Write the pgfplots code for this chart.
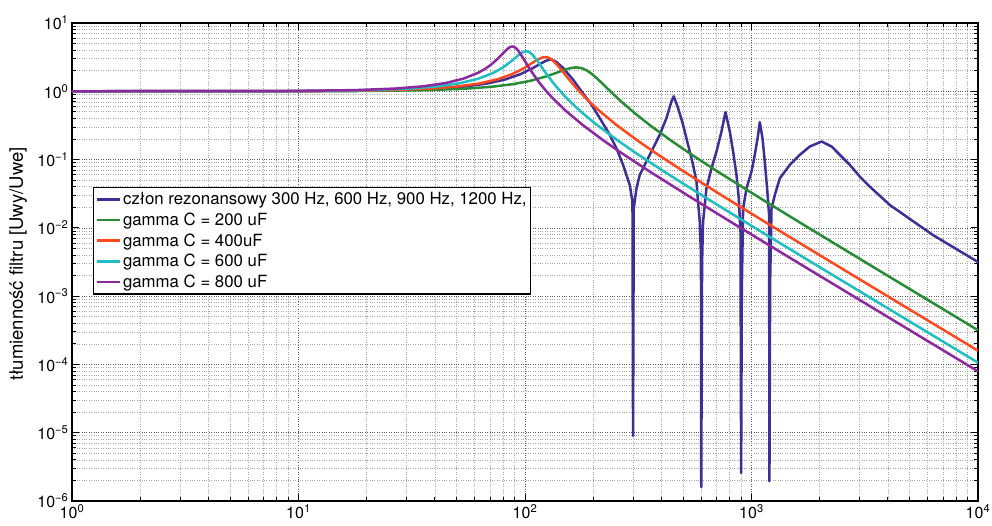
\documentclass[border=0pt]{standalone}
\usepackage{fontspec}
\setmainfont{TeX Gyre Heros}
\usepackage{pgfplots}
\pgfplotsset{compat=1.18}
\definecolor{cblue}{RGB}{60,48,150}
\definecolor{cgreen}{RGB}{40,140,55}
\definecolor{cred}{RGB}{255,72,30}
\definecolor{ccyan}{RGB}{30,190,195}
\definecolor{cpurple}{RGB}{140,40,160}
\newcommand{\tl}[1]{{\fontsize{16}{18}\selectfont 10\textsuperscript{#1}}}
\begin{document}
\begin{tikzpicture}
\begin{loglogaxis}[
  name=ax,
  scale only axis, width=906pt, height=478pt,
  xmin=1, xmax=10000, ymin=1e-6, ymax=10,
  xtick={1,10,100,1000,10000},
  xticklabels={\tl{0},\tl{1},\tl{2},\tl{3},\tl{4}},
  ytick={1e-6,1e-5,1e-4,1e-3,1e-2,1e-1,1,10},
  yticklabels={\tl{\textminus6},\tl{\textminus5},\tl{\textminus4},\tl{\textminus3},\tl{\textminus2},\tl{\textminus1},\tl{0},\tl{1}},
  minor xtick={2,3,4,5,6,7,8,9,20,30,40,50,60,70,80,90,200,300,400,500,600,700,800,900,2000,3000,4000,5000,6000,7000,8000,9000},
  minor ytick={2e-6,3e-6,4e-6,5e-6,6e-6,7e-6,8e-6,9e-6,2e-5,3e-5,4e-5,5e-5,6e-5,7e-5,8e-5,9e-5,2e-4,3e-4,4e-4,5e-4,6e-4,7e-4,8e-4,9e-4,2e-3,3e-3,4e-3,5e-3,6e-3,7e-3,8e-3,9e-3,0.02,0.03,0.04,0.05,0.06,0.07,0.08,0.09,0.2,0.3,0.4,0.5,0.6,0.7,0.8,0.9,2,3,4,5,6,7,8,9},
  grid=both,
  major grid style={black!65, dotted, line width=0.7pt},
  minor grid style={black!35, dotted, line width=0.7pt},
  tick align=inside,
  major tick length=7pt, minor tick length=4pt,
  every tick/.style={black, line width=0.8pt},
  axis line style={line width=1.3pt},
  ylabel={\fontsize{18.5}{21}\selectfont tłumienność filtru [Uwy/Uwe]},
  every axis y label/.style={at={(axis description cs:-0.0596,0.4955)}, rotate=90, anchor=center},
  legend cell align=left,
  legend style={at={(0.0232,0.6569)}, anchor=north west, draw=black, line width=1.2pt, fill=white,
    font=\fontsize{16.8}{19.5}\selectfont, inner xsep=2pt, inner ysep=3pt, row sep=2.6pt},
  legend image code/.code={\draw[#1, line width=2.5pt] (0pt,0pt) -- (23pt,0pt);},
  every axis plot/.append style={line width=2.5pt, line join=round, no markers},
]
\addplot[cblue] table {
1 1
10 1.005
20 1.0207
40.8 1.0919
54.4 1.1747
68 1.2994
81.6 1.4867
95.2 1.7721
108.8 2.2044
115.6 2.4767
122.4 2.7469
127 2.88
131 2.93
138 2.67
147.2 2.201
162.9 1.486
177.5 1.0
196.5 0.637
213.8 0.405
236.7 0.2308
253.3 0.1466
271.0 0.0836
290.1 0.0425
298.2 0.0241
300 9e-6
302.1 0.01922
310.5 0.0378
321.1 0.0596
343.7 0.0935
367.6 0.1466
393.5 0.2308
421.3 0.405
443.3 0.7128
453.8 0.844
474.1 0.568
498.8 0.3237
524.8 0.1645
552.1 0.0836
571.7 0.0475
580.9 0.0241
591.0 0.01225
597.0 0.00496
598.9 0.00128
600 1.6e-6
605.0 0.00316
611.2 0.01225
632.6 0.0378
665.7 0.0745
700.5 0.1312
737.1 0.258
767.7 0.496
802.0 0.258
829.4 0.1312
858.5 0.0596
878.9 0.0270
894.2 0.00873
900 2.58e-6
906.0 0.00115
918.2 0.01922
950.3 0.0378
999.8 0.0666
1034.1 0.1173
1069.5 0.2308
1088.1 0.3536
1118.3 0.2057
1144.7 0.0935
1172.0 0.0378
1196.0 0.01538
1200 1.95e-6
1208.6 0.0016
1225.6 0.01922
1267.7 0.0303
1333.5 0.0531
1476.4 0.0836
1634.6 0.1173
1809.1 0.1553
2038.3 0.184
2256.6 0.1553
2454.7 0.1173
2718.3 0.0836
3008.4 0.0562
3331 0.0401
4082 0.0216
6341 0.00781
10000 0.00316
};
\addlegendentry{człon rezonansowy 300 Hz, 600 Hz, 900 Hz, 1200 Hz,}
\addplot[cgreen] table {
1 1
17.8 1.00902
35.6 1.03694
53.4 1.08654
71.2 1.16304
89 1.27502
106.8 1.43535
124.6 1.65917
133.5 1.79654
142.4 1.94501
151.3 2.08919
160.2 2.19992
168.4 2.23917
178 2.17945
186.9 2.03022
195.8 1.82929
204.7 1.61705
213.6 1.41882
231.4 1.09640
249.2 0.86573
267 0.70080
302.6 0.48908
356 0.31875
445 0.18609
534 0.12319
712 0.066173
1068 0.028484
1780 0.010090
3560 0.0025056
8900 4.0014e-4
10000 3.1695e-4
};
\addlegendentry{gamma C = 200 uF}
\addplot[cred] table {
1 1
12.6 1.00958
25.2 1.03937
37.8 1.09286
50.4 1.17694
63 1.30409
75.6 1.49682
88.2 1.79576
94.5 2.00478
100.8 2.26510
107.1 2.57573
113.4 2.90186
119.7 3.13730
122.7 3.17119
126 3.13050
129.15 3.01827
132.3 2.85126
138.6 2.44289
144.9 2.04568
151.2 1.71363
163.8 1.24173
176.4 0.94424
189 0.74700
214.2 0.50853
252 0.32602
315 0.18831
378 0.12411
504 0.066426
756 0.028529
1260 0.010096
2520 0.0025060
6300 4.0016e-4
10000 1.588e-4
};
\addlegendentry{gamma C = 400uF}
\addplot[ccyan] table {
1 1
10.3 1.00975
20.6 1.04012
30.9 1.09483
41.2 1.18133
51.5 1.31348
61.8 1.51747
72.1 1.84527
77.25 2.08530
82.4 2.40100
87.55 2.81132
92.7 3.30379
97.85 3.74337
101.2 3.85282
103 3.81968
105.575 3.66192
108.15 3.40856
113.3 2.80570
118.45 2.26656
123.6 1.84964
133.9 1.29976
144.2 0.97315
154.5 0.76322
175.1 0.51501
206 0.32837
257.5 0.18901
309 0.12440
412 0.066505
618 0.028543
1030 0.010097
2060 0.0025060
5150 4.0016e-4
10000 1.061e-4
};
\addlegendentry{gamma C = 600 uF}
\addplot[cpurple] table {
1 1
8.9 1.0098
17.8 1.0406
26.7 1.0960
35.6 1.1839
44.5 1.3189
53.4 1.5297
62.3 1.8755
66.75 2.1359
71.2 2.4906
75.65 2.9790
80.1 3.6250
84.55 4.3004
86.775 4.5000
87.9 4.528
89 4.5
91.225 4.2857
93.45 3.9238
97.9 3.1031
102.35 2.4302
106.8 1.9436
115.7 1.3368
124.6 0.99092
133.5 0.77299
151.3 0.51884
178 0.32973
222.5 0.18942
267 0.12457
356 0.066550
534 0.028551
890 0.010098
1780 0.0025061
4450 4.0016e-4
10000 7.922e-5
};
\addlegendentry{gamma C = 800 uF}
\end{loglogaxis}
\pgfresetboundingbox
\path[use as bounding box] ([xshift=-72pt,yshift=-24pt]ax.south west) rectangle ([xshift=14pt,yshift=23pt]ax.north east);
\end{tikzpicture}
\end{document}
